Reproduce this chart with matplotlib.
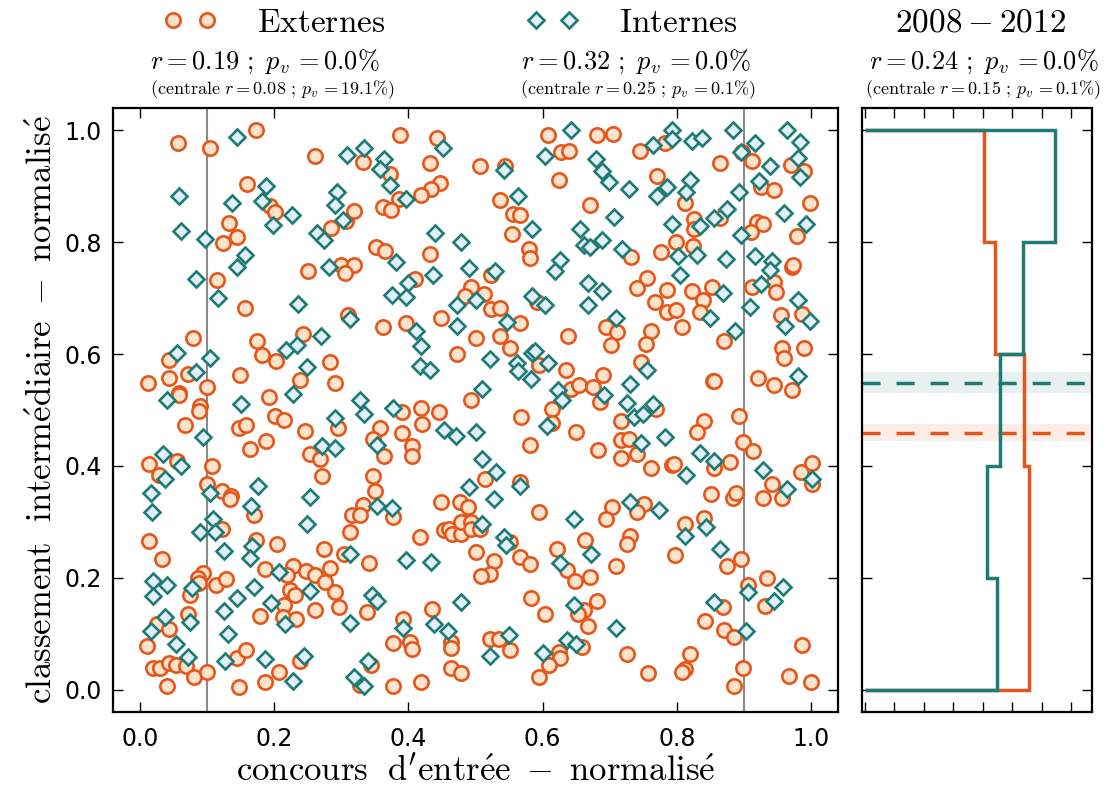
import numpy as np
import matplotlib
matplotlib.use('agg')
import matplotlib.pyplot as plt
from matplotlib.lines import Line2D

plt.rcParams['mathtext.fontset'] = 'cm'
plt.rcParams['font.family'] = 'DejaVu Sans'

ORANGE = '#E6561A'
ORANGE_FILL = '#FDE3CC'
TEAL = '#1E7B75'
TEAL_FILL = '#E2EEF8'

# (concours d'entree, classement intermediaire), both normalised
externes_xy = [
    (0.057,0.977),(0.104,0.969),(0.173,1.000),(0.261,0.955),(0.160,0.904),(0.194,0.864),(0.201,0.854),
    (0.133,0.835),(0.144,0.810),(0.124,0.799),(0.115,0.733),(0.250,0.748),(0.284,0.825),(0.307,0.838),
    (0.319,0.855),(0.299,0.760),(0.319,0.760),(0.305,0.745),(0.157,0.682),
    (0.387,0.992),(0.443,0.987),(0.333,0.944),(0.373,0.922),(0.432,0.941),(0.447,0.906),(0.434,0.896),
    (0.419,0.885),(0.386,0.877),(0.362,0.863),(0.374,0.857),(0.507,0.936),(0.544,0.936),(0.537,0.876),
    (0.556,0.851),(0.566,0.848),(0.555,0.815),(0.580,0.787),(0.581,0.772),(0.608,0.992),(0.628,0.961),
    (0.639,0.963),(0.624,0.912),(0.671,0.867),(0.352,0.792),(0.365,0.784),(0.432,0.779),(0.410,0.734),
    (0.523,0.742),(0.493,0.720),(0.512,0.708),(0.485,0.704),(0.523,0.681),(0.536,0.682),(0.592,0.693),
    (0.681,0.992),(0.705,0.993),(0.745,0.964),(0.783,0.977),(0.864,0.942),(0.897,0.961),(0.912,0.946),
    (0.970,0.938),(0.989,0.928),(0.771,0.919),(0.926,0.898),(0.944,0.893),(0.812,0.871),(0.999,0.870),
    (0.826,0.841),(0.825,0.824),(0.864,0.843),(0.920,0.837),(0.929,0.832),(0.910,0.819),(0.979,0.812),
    (0.798,0.801),(0.824,0.794),(0.777,0.782),(0.732,0.773),(0.971,0.755),(0.973,0.759),(0.755,0.736),
    (0.740,0.718),(0.785,0.715),(0.822,0.712),(0.852,0.720),(0.839,0.696),(0.768,0.694),(0.912,0.720),
    (0.944,0.729),(0.947,0.711),
    (0.310,0.669),(0.079,0.629),(0.044,0.590),(0.175,0.623),(0.182,0.598),(0.203,0.588),(0.243,0.636),
    (0.071,0.565),(0.043,0.557),(0.012,0.548),(0.100,0.542),(0.149,0.563),(0.283,0.586),(0.290,0.549),
    (0.238,0.554),(0.058,0.531),(0.058,0.526),(0.090,0.508),(0.088,0.499),(0.193,0.523),(0.201,0.489),
    (0.215,0.482),(0.067,0.474),(0.147,0.467),(0.158,0.474),(0.188,0.444),(0.164,0.430),(0.246,0.463),
    (0.295,0.467),(0.253,0.421),(0.269,0.413),(0.272,0.382),(0.013,0.404),(0.028,0.383),(0.055,0.408),
    (0.108,0.400),(0.100,0.367),(0.122,0.355),(0.136,0.347),(0.134,0.340),
    (0.449,0.664),(0.397,0.656),(0.362,0.648),(0.567,0.656),(0.500,0.629),(0.536,0.633),(0.551,0.611),
    (0.473,0.601),(0.638,0.632),(0.595,0.580),(0.635,0.571),(0.643,0.538),(0.654,0.544),(0.675,0.542),
    (0.493,0.518),(0.391,0.496),(0.419,0.504),(0.445,0.496),(0.420,0.475),(0.358,0.468),(0.348,0.449),
    (0.391,0.458),(0.406,0.436),(0.406,0.417),(0.363,0.417),(0.568,0.488),(0.614,0.501),(0.614,0.477),
    (0.649,0.460),(0.581,0.438),(0.348,0.382),(0.351,0.355),(0.514,0.377),(0.567,0.371),(0.449,0.336),
    (0.477,0.336),(0.489,0.326),(0.333,0.330),
    (0.785,0.675),(0.798,0.678),(0.835,0.675),(0.955,0.669),(0.987,0.672),(0.695,0.648),(0.711,0.639),
    (0.702,0.617),(0.761,0.641),(0.754,0.618),(0.807,0.648),(0.870,0.623),(0.956,0.610),(0.960,0.593),
    (0.989,0.611),(0.747,0.586),(0.690,0.563),(0.686,0.515),(0.854,0.551),(0.856,0.551),(0.921,0.558),
    (0.944,0.545),(0.972,0.535),(0.769,0.502),(0.716,0.480),(0.841,0.480),(0.830,0.461),(0.892,0.489),
    (0.682,0.429),(0.716,0.446),(0.729,0.449),(0.716,0.414),(0.740,0.422),(0.899,0.443),(0.914,0.427),
    (0.762,0.396),(0.793,0.401),(0.796,0.404),(0.855,0.397),(0.879,0.407),(0.985,0.390),(1.001,0.406),
    (1.001,0.368),(0.941,0.368),(0.928,0.343),(0.957,0.343),(0.851,0.350),(0.883,0.343),(0.888,0.352),
    (0.703,0.326),(0.751,0.332),
    (0.170,0.312),(0.014,0.265),(0.033,0.233),(0.122,0.288),(0.173,0.268),(0.204,0.260),(0.313,0.281),
    (0.274,0.251),(0.304,0.243),(0.187,0.215),(0.228,0.221),(0.247,0.213),(0.261,0.205),(0.283,0.218),
    (0.219,0.205),(0.094,0.208),(0.086,0.200),(0.088,0.190),(0.074,0.170),(0.113,0.187),(0.129,0.198),
    (0.224,0.179),(0.231,0.169),(0.276,0.192),(0.290,0.174),(0.296,0.147),(0.215,0.152),(0.261,0.143),
    (0.213,0.129),(0.232,0.127),(0.179,0.132),(0.071,0.136),(0.026,0.118),(0.044,0.108),(0.011,0.078),
    (0.238,0.051),(0.020,0.038),(0.030,0.038),(0.043,0.048),(0.054,0.044),(0.069,0.042),(0.080,0.022),
    (0.100,0.032),(0.040,0.007),(0.145,0.056),(0.158,0.071),(0.147,0.005),(0.187,0.014),(0.208,0.031),
    (0.316,0.312),(0.328,0.312),(0.377,0.309),(0.594,0.318),(0.417,0.273),(0.453,0.285),(0.460,0.288),
    (0.465,0.279),(0.478,0.279),(0.478,0.299),(0.493,0.299),(0.493,0.287),(0.507,0.288),(0.551,0.264),
    (0.500,0.246),(0.527,0.230),(0.522,0.207),(0.508,0.203),(0.566,0.237),(0.581,0.224),(0.341,0.227),
    (0.622,0.252),(0.663,0.267),(0.637,0.214),(0.648,0.194),(0.670,0.202),(0.582,0.163),(0.603,0.136),
    (0.338,0.139),(0.435,0.145),(0.392,0.126),(0.377,0.084),(0.402,0.086),(0.406,0.072),(0.464,0.086),
    (0.464,0.075),(0.521,0.090),(0.535,0.090),(0.552,0.070),(0.661,0.142),(0.653,0.135),(0.667,0.114),
    (0.658,0.077),(0.624,0.068),(0.626,0.056),(0.610,0.044),(0.594,0.023),(0.344,0.044),(0.328,0.008),
    (0.377,0.007),(0.419,0.014),(0.463,0.038),(0.479,0.029),
    (0.741,0.318),(0.694,0.305),(0.812,0.297),(0.840,0.306),(0.730,0.275),(0.725,0.260),(0.797,0.240),
    (0.710,0.221),(0.681,0.159),(0.875,0.221),(0.896,0.233),(0.934,0.200),(0.906,0.187),(0.868,0.148),
    (0.931,0.149),(0.842,0.123),(0.870,0.106),(0.885,0.095),(0.986,0.080),(0.725,0.064),(0.819,0.064),
    (0.812,0.037),(0.807,0.032),(0.757,0.029),(0.899,0.039),(0.885,0.007),(0.967,0.025),(1.000,0.014),
]

internes_xy = [
    (0.145,0.989),(0.309,0.956),(0.058,0.883),(0.188,0.901),(0.182,0.874),(0.137,0.871),(0.226,0.848),
    (0.293,0.890),(0.291,0.867),(0.302,0.840),(0.199,0.830),(0.264,0.817),(0.274,0.804),(0.061,0.820),
    (0.097,0.805),(0.156,0.778),(0.145,0.756),(0.083,0.734),(0.282,0.756),(0.117,0.701),(0.236,0.689),
    (0.334,0.968),(0.363,0.949),(0.358,0.931),(0.372,0.902),(0.396,0.877),(0.451,0.968),(0.543,0.929),
    (0.564,0.882),(0.584,0.824),(0.604,0.955),(0.643,1.001),(0.656,0.823),(0.662,0.795),(0.671,0.791),
    (0.439,0.816),(0.479,0.800),(0.382,0.764),(0.490,0.754),(0.529,0.749),(0.437,0.742),(0.400,0.727),
    (0.375,0.705),(0.396,0.702),(0.472,0.688),(0.500,0.697),(0.584,0.703),(0.604,0.688),(0.626,0.769),
    (0.619,0.748),(0.667,0.727),(0.667,0.688),
    (0.679,0.949),(0.689,0.928),(0.699,0.908),(0.728,0.896),(0.765,0.973),(0.792,1.001),(0.793,0.985),
    (0.823,0.981),(0.837,0.986),(0.884,1.001),(0.896,0.961),(0.916,0.977),(0.939,0.937),(0.964,1.001),
    (0.983,0.979),(0.981,0.950),(0.983,0.916),(0.922,0.909),(0.819,0.911),(0.786,0.898),(0.771,0.883),
    (0.813,0.890),(0.892,0.889),(0.875,0.860),(0.855,0.843),(0.834,0.829),(0.792,0.833),(0.706,0.845),
    (0.959,0.852),(0.993,0.832),(0.896,0.813),(0.688,0.804),(0.718,0.787),(0.801,0.776),(0.830,0.778),
    (0.873,0.770),(0.917,0.776),(0.942,0.766),(0.938,0.751),(0.805,0.741),(0.925,0.725),(0.688,0.713),
    (0.869,0.709),(0.981,0.697),(0.909,0.684),
    (0.313,0.662),(0.055,0.602),(0.104,0.593),(0.083,0.568),(0.041,0.518),(0.150,0.511),(0.218,0.607),
    (0.234,0.617),(0.270,0.632),(0.249,0.576),(0.228,0.528),(0.094,0.451),(0.035,0.422),(0.062,0.399),
    (0.038,0.376),(0.017,0.351),(0.104,0.352),(0.176,0.364),(0.166,0.328),(0.253,0.345),(0.291,0.485),
    (0.272,0.435),(0.291,0.432),
    (0.473,0.651),(0.412,0.642),(0.419,0.614),(0.417,0.578),(0.432,0.571),(0.547,0.657),(0.521,0.592),
    (0.562,0.584),(0.564,0.570),(0.584,0.602),(0.589,0.605),(0.582,0.555),(0.608,0.584),(0.510,0.538),
    (0.623,0.535),(0.629,0.517),(0.606,0.472),(0.328,0.518),(0.334,0.492),(0.377,0.504),(0.453,0.465),
    (0.471,0.454),(0.500,0.461),(0.354,0.437),(0.510,0.412),(0.530,0.389),(0.491,0.363),(0.566,0.365),
    (0.527,0.340),(0.353,0.328),(0.376,0.324),
    (0.710,0.664),(0.849,0.664),(0.961,0.650),(0.998,0.659),(0.887,0.641),(0.755,0.572),(0.730,0.546),
    (0.691,0.526),(0.726,0.512),(0.764,0.511),(0.736,0.487),(0.750,0.492),(0.981,0.560),(0.746,0.441),
    (0.782,0.452),(0.834,0.424),(0.855,0.408),(0.813,0.383),(0.928,0.392),(0.964,0.358),(1.001,0.376),
    (0.730,0.336),(0.774,0.322),
    (0.018,0.318),(0.109,0.305),(0.090,0.281),(0.112,0.281),(0.249,0.297),(0.125,0.248),(0.167,0.257),
    (0.164,0.236),(0.313,0.242),(0.208,0.211),(0.254,0.177),(0.020,0.194),(0.040,0.187),(0.020,0.168),
    (0.078,0.181),(0.170,0.184),(0.145,0.163),(0.196,0.155),(0.125,0.140),(0.037,0.129),(0.074,0.121),
    (0.216,0.117),(0.313,0.120),(0.017,0.104),(0.054,0.081),(0.131,0.099),(0.072,0.059),(0.127,0.052),
    (0.187,0.055),(0.244,0.060),(0.228,0.015),(0.319,0.023),
    (0.647,0.305),(0.509,0.296),(0.542,0.273),(0.546,0.258),(0.672,0.243),(0.626,0.227),(0.396,0.232),
    (0.434,0.229),(0.346,0.170),(0.353,0.159),(0.479,0.156),(0.647,0.152),(0.392,0.111),(0.438,0.117),
    (0.459,0.104),(0.550,0.098),(0.521,0.061),(0.600,0.066),(0.637,0.089),(0.649,0.081),(0.340,0.052),
    (0.334,0.007),
    (0.812,0.274),(0.844,0.291),(0.864,0.252),(0.906,0.175),(0.958,0.184),(0.945,0.159),(0.855,0.156),
    (0.709,0.111),(0.903,0.104),
]

# right panel: density of the intermediate ranking per bin, 2008-2012
bin_edges = [0.0, 0.2, 0.4, 0.6, 0.8, 1.0]
ext_density = [1.11, 1.11, 1.08, 0.88, 0.81]
int_density = [0.895, 0.83, 0.915, 1.07, 1.29]

stats_ext = (r'$r=0.19\ ;\ p_v\,=0.0\%$', r'$\mathrm{(centrale}\ r=0.08\ ;\,p_v\,=19.1\%\mathrm{)}$')
stats_int = (r'$r=0.32\ ;\ p_v\,=0.0\%$', r'$\mathrm{(centrale}\ r=0.25\ ;\,p_v\,=0.1\%\mathrm{)}$')
stats_all = (r'$r=0.24\ ;\ p_v\,=0.0\%$', r'$\mathrm{(centrale}\ r=0.15\ ;\,p_v\,=0.1\%\mathrm{)}$')

ext_x, ext_y = np.array(externes_xy).T
int_x, int_y = np.array(internes_xy).T

W, H = 1109, 792
fig = plt.figure(figsize=(W / 100, H / 100), dpi=100)
ax = fig.add_axes([113 / W, 80 / H, 725 / W, 604 / H])
ax2 = fig.add_axes([862 / W, 80 / H, 230 / W, 604 / H])

ext_style = dict(marker='o', ls='none', ms=10.3, mfc=ORANGE_FILL, mec=ORANGE, mew=1.9)
int_style = dict(marker='D', ls='none', ms=8.1, mfc=TEAL_FILL, mec=TEAL, mew=1.9)

# main scatter
ax.axvline(0.1, color='#8a8a8a', lw=1.5, zorder=1)
ax.axvline(0.9, color='#8a8a8a', lw=1.5, zorder=1)
ax.plot(ext_x, ext_y, zorder=2, **ext_style)
ax.plot(int_x, int_y, zorder=3, **int_style)

ax.set_xlim(-0.04, 1.04)
ax.set_ylim(-0.04, 1.04)
ax.set_xticks(np.arange(0, 1.01, 0.2))
ax.set_yticks(np.arange(0, 1.01, 0.2))
ax.tick_params(direction='in', length=7, width=1, top=True, right=True,
               labelsize=17, pad=8)
ax.tick_params(axis='x', pad=11)
ax.set_xlabel(r"$\mathrm{concours\ \ d'entr\acute{e}e\ -\ normalis\acute{e}}$", fontsize=25, labelpad=2)
ax.set_ylabel(r'$\mathrm{classement\ \ interm\acute{e}diaire\ -\ normalis\acute{e}}$', fontsize=25, labelpad=4)

# right panel
ax2.stairs(ext_density, bin_edges, orientation='horizontal', baseline=0,
           color=ORANGE, lw=2.5, zorder=3)
ax2.stairs(int_density, bin_edges, orientation='horizontal', baseline=0,
           color=TEAL, lw=2.5, zorder=4)
for yv, col in ((ext_y, ORANGE), (int_y, TEAL)):
    m = np.mean(yv)
    se = np.std(yv, ddof=1) / np.sqrt(len(yv))
    ax2.axhspan(m - se, m + se, color=col, alpha=0.1, lw=0, zorder=1)
    ax2.axhline(m, color=col, lw=2.5, ls=(0, (5.2, 4.6)), zorder=2)

ax2.set_xlim(-0.02, 1.54)
ax2.set_ylim(-0.04, 1.04)
ax2.set_xticks(np.arange(0, 1.41, 0.2))
ax2.set_yticks(np.arange(0, 1.01, 0.2))
ax2.tick_params(direction='in', length=7, width=1, top=True, right=True,
                labelbottom=False, labelleft=False)

for a in (ax, ax2):
    for sp in a.spines.values():
        sp.set_linewidth(1.6)

# header: legends and correlation statistics
h_ext = Line2D([], [], **ext_style)
h_int = Line2D([], [], **int_style)
fig.legend([h_ext], [r'$\mathrm{Externes}$'], loc='center', bbox_to_anchor=(274 / W, 1 - 22 / H),
           numpoints=2, frameon=False, handlelength=1.6, handletextpad=1.2, fontsize=24,
           borderpad=0, borderaxespad=0)
fig.legend([h_int], [r'$\mathrm{Internes}$'], loc='center', bbox_to_anchor=(632 / W, 1 - 22 / H),
           numpoints=2, frameon=False, handlelength=1.6, handletextpad=1.2, fontsize=24,
           borderpad=0, borderaxespad=0)
fig.text(981 / W, 1 - 22 / H, r'$2008-2012$', ha='center', va='center', fontsize=24)

for (l1, l2), cx1, cx2 in ((stats_ext, 265, 272), (stats_int, 636, 638), (stats_all, 984, 983)):
    fig.text(cx1 / W, 1 - 62 / H, l1, ha='center', va='center', fontsize=19)
    fig.text(cx2 / W, 1 - 90 / H, l2, ha='center', va='center', fontsize=13)

fig.savefig('out.png', dpi=100)
plt.close(fig)
